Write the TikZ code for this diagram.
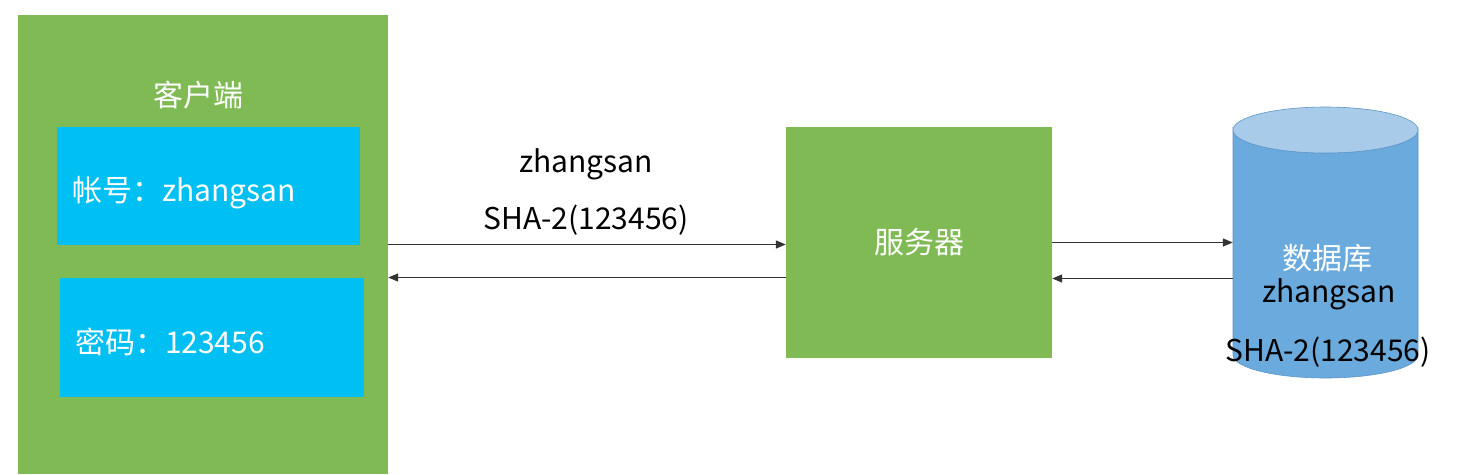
\documentclass[tikz,border=0pt]{standalone}
\usepackage{fontspec}
\setmainfont{Noto Sans CJK SC}
\usepackage{tikz}
\usetikzlibrary{arrows.meta}
\definecolor{boxgreen}{HTML}{80BA55}
\definecolor{fieldblue}{HTML}{00BFF3}
\definecolor{dbblue}{HTML}{6AAADC}
\definecolor{dbtop}{HTML}{A9CBEA}
\definecolor{dbline}{HTML}{5E96C8}

\begin{document}
\begin{tikzpicture}[x=1pt,y=-1pt,
    every node/.style={font=\fontsize{30}{34}\selectfont},
    block/.style={fill=boxgreen,inner sep=0pt},
    field/.style={fill=fieldblue,inner xsep=15pt,inner ysep=0pt,text=white,align=left,
      text height=34pt,text depth=3pt},
    msg/.style={-{Triangle[length=10pt,width=8pt]},line width=1.3pt,draw=black!80}]
      \useasboundingbox (0,0) rectangle (1464,474);
      % the client with its two fields
      \node[block,minimum width=370,minimum height=459] (client) at (203,244.5) {};
      \node[text=white] (clienttitle) at (198,95) {客户端};
      \node[field,minimum height=118,text width=273] (account) at (208.5,186) {帐号：zhangsan};
      \node[field,minimum height=119,text width=274] (password) at (212,337.5) {密码：123456};
      %% the server
      \node[block,minimum width=266,minimum height=231,text=white] (server) at (919,242.5) {服务器};
      %% the database, drawn round an empty node
      \node[minimum width=185,minimum height=271,inner sep=0pt] (db) at (1325.5,242.5) {};
      \path[fill=dbblue,draw=dbline,line width=0.6pt] (1233,130) -- (1233,355)
        arc[start angle=180,end angle=0,x radius=92.5,y radius=23] -- (1418,130)
        arc[start angle=0,end angle=180,x radius=92.5,y radius=23] -- cycle;
      \draw[fill=dbtop,draw=dbline,line width=0.6pt] (1325.5,130) ellipse[x radius=92.5,y radius=23];
      \node[text=white] (dbname) at (1327,258) {数据库};
      \node (dbuser) at (1329,294) {zhangsan};
      \node (dbhash) at (1328,352) {SHA-2(123456)};
      %% the messages
      \node (msguser) at (586,164) {zhangsan};
      \node (msghash) at (586,220) {SHA-2(123456)};
      \draw[msg] (client.east) -- (client.east -| server.west);
      \draw[msg] ([yshift=-35pt]server.west) -- ([yshift=-35pt]server.west -| client.east);
      \draw[msg] (server.east) -- (db.west);
      \draw[msg] ([yshift=-36pt]db.west) -- ([yshift=-36pt]server.east);
\end{tikzpicture}
\end{document}
